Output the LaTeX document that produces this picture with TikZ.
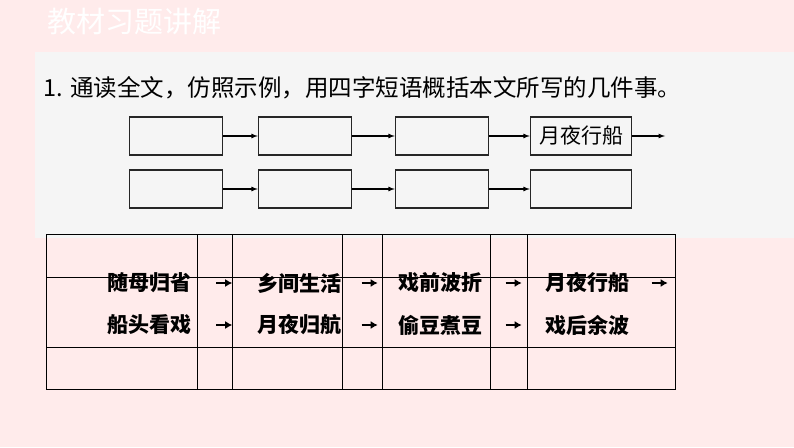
\documentclass[tikz,border=0pt]{standalone}
\usepackage{fontspec}
\setmainfont{Noto Sans CJK SC}
\usetikzlibrary{positioning,calc,arrows.meta}
\tikzset{
  blank/.style={draw=black!85,line width=1.4pt,minimum width=93pt,minimum height=38pt,inner sep=0pt,font=\fontsize{21}{21}\selectfont},
  answer/.style={anchor=west,font=\fontsize{21}{21}\selectfont\bfseries,inner sep=0pt},
  tip/.style={-{Latex[length=7pt,width=8pt]},line width=2pt}
}
\begin{document}
\begin{tikzpicture}[x=1pt,y=-1pt]
\useasboundingbox (0,0) rectangle (794,447);
\fill[red!8] (0,0) rectangle (794,447);
\fill[gray!8] (35,52) rectangle (794,238);
\node[anchor=west,white,font=\fontsize{29}{29}\selectfont] (title) at (44,22) {教材习题讲解};
\node[anchor=west,font=\fontsize{23.5}{23.5}\selectfont] (task) at (40,88) {1. 通读全文，仿照示例，用四字短语概括本文所写的几件事。};
% boxes
\node[blank] (a1) at (176,136) {};
\node[blank] (a2) at (305,136) {};
\node[blank] (a3) at (442,136) {};
\node[blank,minimum width=101pt] (a4) at (581,136) {月夜行船};
\node[blank] (b1) at (176,189) {};
\node[blank] (b2) at (305,189) {};
\node[blank] (b3) at (442,189) {};
\node[blank,minimum width=101pt] (b4) at (581,189) {};
\coordinate (aend) at (665,136);
\foreach \i/\j in {a1/a2,a2/a3,a3/a4,b1/b2,b2/b3,b3/b4}
  \draw[-latex,line width=1.2pt] (\i) -- (\j);
\draw[-latex,line width=1.2pt] (a4) -- (aend);
% grid table
\draw[line width=0.8pt] (46,234) rectangle (675,389);
\foreach \y in {277,347} \draw[line width=0.8pt] (46,\y) -- (675,\y);
\foreach \x in {197,232,342,382,490,527} \draw[line width=0.8pt] (\x,234) -- (\x,389);
% answers
\node[answer] (r1) at (107,283) {随母归省};
\node[answer] (r2) at (257,283) {乡间生活};
\node[answer] (r3) at (398,283) {戏前波折};
\node[answer] (r4) at (545,283) {月夜行船};
\node[answer] (s1) at (107,325) {船头看戏};
\node[answer] (s2) at (257,325) {月夜归航};
\node[answer] (s3) at (398,325) {偷豆煮豆};
\node[answer] (s4) at (545,325) {戏后余波};
\coordinate (rend) at (690,283);
\foreach \i/\j in {r1/r2,r2/r3,r3/r4,r4/rend,s1/s2,s2/s3,s3/s4}
  \draw[tip] ($(\i.east)!0.5!(\j.west)+(-8,0)$) -- ($(\i.east)!0.5!(\j.west)+(8,0)$);
\end{tikzpicture}
\end{document}
